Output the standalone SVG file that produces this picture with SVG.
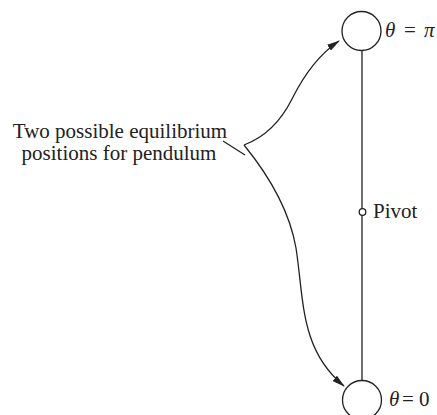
<svg xmlns="http://www.w3.org/2000/svg" width="437" height="415" viewBox="0 0 437 415">
<defs>
<style>
.ln{fill:none;stroke:#222;stroke-width:1.3}
.nd{fill:#fff;stroke:#222;stroke-width:1.3}
.t{font-family:'Liberation Serif','Times New Roman',serif;font-size:21px;fill:#222}
</style>
<marker id="ah" viewBox="0 0 13 7" refX="12" refY="3.5" markerWidth="13" markerHeight="7" markerUnits="userSpaceOnUse" orient="auto">
<path d="M0,0 L13,3.5 L0,7 Z" fill="#222"/>
</marker>
</defs>
<rect width="437" height="415" fill="#fff"/>
<g id="connectors">
<path class="ln" d="M362,50 V381"/>
<path class="ln" d="M223,141 L245,155"/>
<path class="ln" d="M244,145 C268,136 283,117 292,99 C303,77 318,55 339,41" marker-end="url(#ah)"/>
<path class="ln" d="M244,145 C266,172 289,208 296,248 C304,300 300,350 344,386" marker-end="url(#ah)"/>
</g>
<g id="top-bob">
<circle class="nd" cx="361.5" cy="31" r="19.5"/>
<text class="t" font-family="Liberation Serif, serif" x="385" y="37"><tspan font-style="italic">θ</tspan><tspan x="404">=</tspan><tspan x="424" font-style="italic">π</tspan></text>
</g>
<g id="bottom-bob">
<circle class="nd" cx="362" cy="400" r="19.5"/>
<text class="t" font-family="Liberation Serif, serif" x="389" y="406"><tspan font-style="italic">θ</tspan><tspan x="402">=</tspan><tspan x="419">0</tspan></text>
</g>
<g id="pivot">
<circle class="nd" cx="362.5" cy="212" r="3.3"/>
<text class="t" font-family="Liberation Serif, serif" x="373" y="218">Pivot</text>
</g>
<g id="label">
<text class="t" font-family="Liberation Serif, serif" text-anchor="middle" x="120" y="138">Two possible equilibrium</text>
<text class="t" font-family="Liberation Serif, serif" text-anchor="middle" x="119" y="160">positions for pendulum</text>
</g>
</svg>
